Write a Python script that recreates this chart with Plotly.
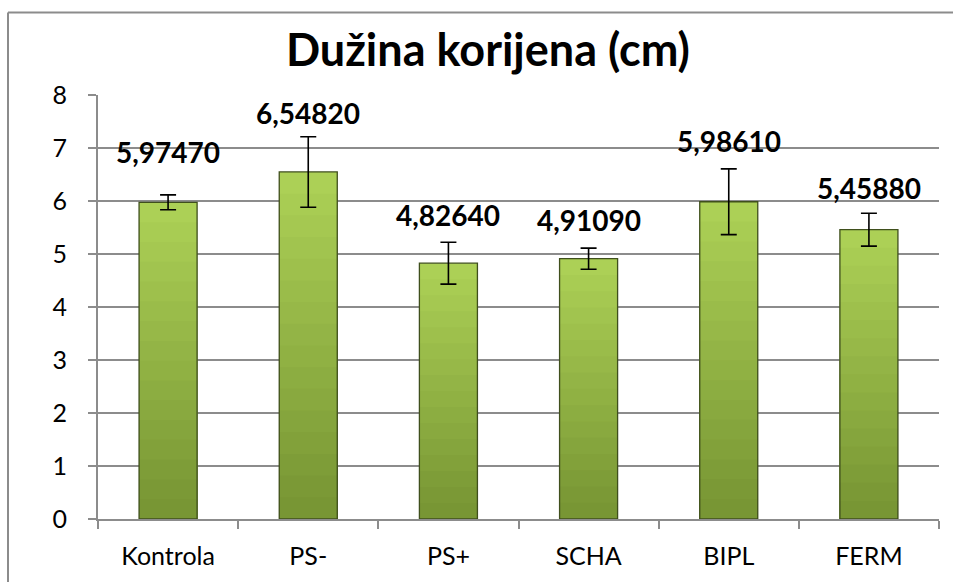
import plotly.graph_objects as go

categories = ["Kontrola", "PS-", "PS+", "SCHA", "BIPL", "FERM"]
values = [5.9747, 6.5482, 4.8264, 4.9109, 5.9861, 5.4588]
errors = [0.14, 0.665, 0.395, 0.20, 0.62, 0.31]
label_texts = ["5,97470", "6,54820", "4,82640", "4,91090", "5,98610", "5,45880"]
label_pos = [6.93, 7.66, 5.73, 5.65, 7.14, 6.25]
y_ticks = [0, 1, 2, 3, 4, 5, 6, 7, 8]

FONT = "Lato"

fig = go.Figure()

# gradient simulation: overlaid bars, top light to bottom dark
n_steps = 16
top_rgb = (172, 208, 86)
bot_rgb = (120, 150, 52)
for i in range(n_steps):
    f = 1 - i / n_steps
    t = i / (n_steps - 1)
    r = int(top_rgb[0] + (bot_rgb[0] - top_rgb[0]) * t)
    g = int(top_rgb[1] + (bot_rgb[1] - top_rgb[1]) * t)
    b = int(top_rgb[2] + (bot_rgb[2] - top_rgb[2]) * t)
    fig.add_trace(go.Bar(
        x=categories, y=[v * f for v in values],
        marker=dict(color=f"rgb({r},{g},{b})", line=dict(width=0)),
        hoverinfo="skip", showlegend=False,
    ))

# outline bar with error bars
fig.add_trace(go.Bar(
    x=categories, y=values,
    marker=dict(color="rgba(0,0,0,0)", line=dict(color="#3f4f1c", width=1.3)),
    error_y=dict(type="data", array=errors, visible=True, color="black",
                 thickness=1.6, width=8),
    showlegend=False,
))

for c, t, p in zip(categories, label_texts, label_pos):
    fig.add_annotation(x=c, y=p, text=f"<b>{t}</b>", showarrow=False,
                       font=dict(family=FONT, size=28, color="black"),
                       xanchor="center", yanchor="middle")

# chart border: left and top edges
bx0 = -90.0 / 841
by1 = 509.0 / 426
fig.add_shape(type="line", xref="paper", yref="paper",
              x0=bx0, x1=bx0, y0=-0.3, y1=by1,
              line=dict(color="#8c8c8c", width=2), layer="below")
fig.add_shape(type="line", xref="paper", yref="paper",
              x0=bx0, x1=1.2, y0=by1, y1=by1,
              line=dict(color="#8c8c8c", width=2), layer="below")

fig.update_layout(
    width=953, height=582,
    margin=dict(l=98, r=14, t=95, b=61),
    paper_bgcolor="white", plot_bgcolor="white",
    barmode="overlay", bargap=0.586,
    title=dict(text="<b>Dužina korijena (cm)</b>", x=0.512, xanchor="center",
               y=1 - 50 / 582, yanchor="middle",
               font=dict(family=FONT, size=45, color="black")),
    font=dict(family=FONT, size=25, color="black"),
)
fig.update_xaxes(
    showline=True, linecolor="#8c8c8c", linewidth=2,
    ticks="outside", tickson="boundaries", ticklen=8, tickcolor="#8c8c8c", tickwidth=2,
    tickfont=dict(family=FONT, size=25, color="black"), ticklabelstandoff=14,
    showgrid=False,
)
fig.update_yaxes(
    range=[0, 8], tickvals=y_ticks,
    showline=True, linecolor="#8c8c8c", linewidth=2,
    ticks="outside", ticklen=8, tickcolor="#8c8c8c", tickwidth=2,
    showgrid=True, gridcolor="#8c8c8c", gridwidth=1.5,
    tickfont=dict(family=FONT, size=25, color="black"), ticklabelstandoff=16,
    zeroline=False,
)

fig.write_html("out.html", config={"displayModeBar": False},
               post_script="document.body.style.margin='0';document.body.style.overflow='hidden';")
